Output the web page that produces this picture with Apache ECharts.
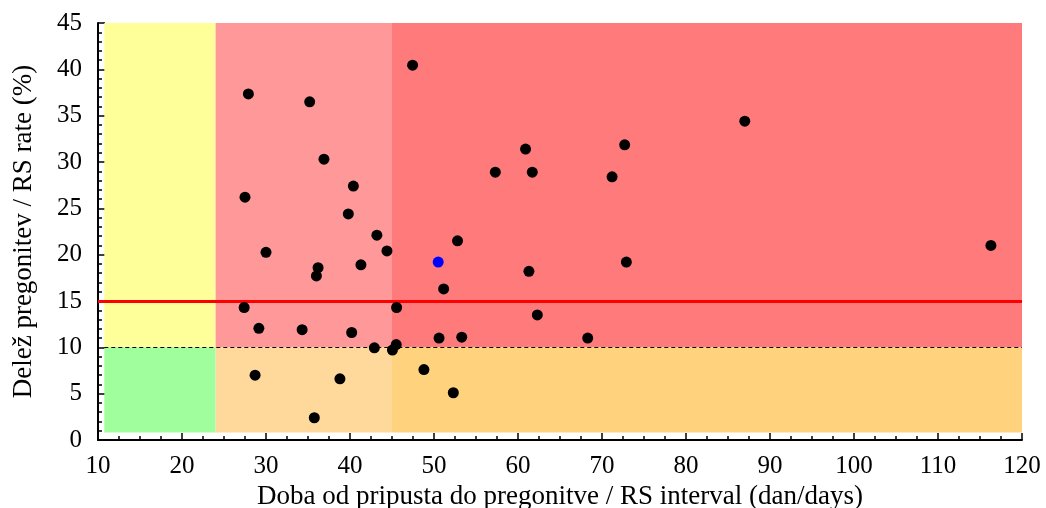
<!DOCTYPE html>
<html>
<head>
<meta charset="utf-8">
<script src="https://cdn.jsdelivr.net/npm/echarts@6/dist/echarts.min.js"></script>
<style>html,body{margin:0;padding:0;background:#fff}#c{width:1046px;height:508px}</style>
</head>
<body>
<div id="c"></div>
<script>
// Data
var xValues = [27.5, 27.9, 27.4, 29.15, 28.7, 30.0, 35.2, 36.9, 36.2, 36.0, 34.3, 35.75, 38.8, 39.8, 40.4, 40.2, 41.3, 43.2, 44.4, 42.9, 45.05, 45.5, 45.55, 47.45, 48.8, 50.6, 51.15, 52.3, 52.8, 53.3, 57.3, 60.9, 61.7, 61.3, 62.3, 68.3, 71.2, 72.7, 72.9, 87.0, 116.3];
var yValues = [26.2, 37.35, 14.3, 12.05, 7.0, 20.25, 36.5, 30.3, 18.6, 17.7, 11.9, 2.4, 6.6, 24.4, 27.4, 11.6, 18.9, 22.1, 20.4, 9.95, 9.7, 10.3, 14.3, 40.45, 7.6, 11.0, 16.3, 5.1, 21.5, 11.1, 28.9, 31.4, 28.9, 18.2, 13.5, 11.0, 28.4, 31.85, 19.2, 34.4, 21.0];
var highlightX = [50.5];
var highlightY = [19.2];
var zoneXBounds = [10.75, 24, 45, 120];
var zoneYBounds = [0.8, 10, 45];
var zoneColorsUpper = ['#ffff99', '#ff9999', '#ff7b7b'];
var zoneColorsLower = ['#a0ff9c', '#ffd99b', '#ffd27d'];
var thresholdRate = 15;
var limitRate = 10;
var xTicks = {min: 10, max: 120, interval: 10};
var yTicks = {min: 0, max: 45, interval: 5};

var points = xValues.map(function (x, i) { return [x, yValues[i]]; });
var hpoints = highlightX.map(function (x, i) { return [x, highlightY[i]]; });

var areas = [];
for (var i = 0; i < 3; i++) {
  areas.push([{xAxis: zoneXBounds[i], yAxis: zoneYBounds[1], itemStyle: {color: zoneColorsUpper[i], opacity: 1}},
              {xAxis: zoneXBounds[i + 1], yAxis: zoneYBounds[2]}]);
  areas.push([{xAxis: zoneXBounds[i], yAxis: zoneYBounds[0], itemStyle: {color: zoneColorsLower[i], opacity: 1}},
              {xAxis: zoneXBounds[i + 1], yAxis: zoneYBounds[1]}]);
}

var font = 'Liberation Serif';
var chart = echarts.init(document.getElementById('c'), null, {renderer: 'canvas'});
chart.setOption({
  animation: false,
  backgroundColor: '#fff',
  grid: {left: 98, right: 24, top: 23, bottom: 68, outerBoundsMode: 'none', containLabel: false},
  xAxis: {
    type: 'value', min: xTicks.min, max: xTicks.max, interval: xTicks.interval,
    name: 'Doba od pripusta do pregonitve / RS interval (dan/days)',
    nameLocation: 'middle', nameGap: 35,
    nameTextStyle: {fontFamily: font, fontSize: 27, color: '#000'},
    axisLine: {show: true, onZero: false, lineStyle: {color: '#000', width: 2}},
    axisTick: {show: true, inside: true, length: 7, lineStyle: {color: '#000', width: 1.5}},
    minorTick: {show: true, splitNumber: 4, length: 4, lineStyle: {color: '#000', width: 1.5}},
    axisLabel: {fontFamily: font, fontSize: 25, color: '#000', margin: 14},
    splitLine: {show: false}
  },
  yAxis: {
    type: 'value', min: yTicks.min, max: yTicks.max, interval: yTicks.interval,
    name: 'Delež pregonitev / RS rate (%)',
    nameLocation: 'middle', nameGap: 61, nameRotate: 90,
    nameTextStyle: {fontFamily: font, fontSize: 27, color: '#000'},
    axisLine: {show: true, onZero: false, lineStyle: {color: '#000', width: 2}},
    axisTick: {show: true, inside: true, length: 7, lineStyle: {color: '#000', width: 1.5}},
    minorTick: {show: true, splitNumber: 5, length: 4, lineStyle: {color: '#000', width: 1.5}},
    axisLabel: {fontFamily: font, fontSize: 25, color: '#000', margin: 16},
    splitLine: {show: false}
  },
  series: [
    {
      type: 'scatter', data: [], z: 1, silent: true,
      markArea: {silent: true, data: areas},
      markLine: {
        silent: true, symbol: 'none', label: {show: false}, animation: false,
        data: [
          [{coord: [zoneXBounds[0], limitRate], lineStyle: {color: '#000', width: 1, type: [4, 3]}},
           {coord: [xTicks.max, limitRate]}],
          [{coord: [xTicks.min, thresholdRate], lineStyle: {color: '#ff0000', width: 3, type: 'solid'}},
           {coord: [xTicks.max, thresholdRate]}]
        ]
      }
    },
    {type: 'scatter', data: points, symbolSize: 11, itemStyle: {color: '#000', opacity: 1}, z: 5},
    {type: 'scatter', data: hpoints, symbolSize: 11, itemStyle: {color: '#0000ff', opacity: 1}, z: 6}
  ]
});
</script>
</body>
</html>
